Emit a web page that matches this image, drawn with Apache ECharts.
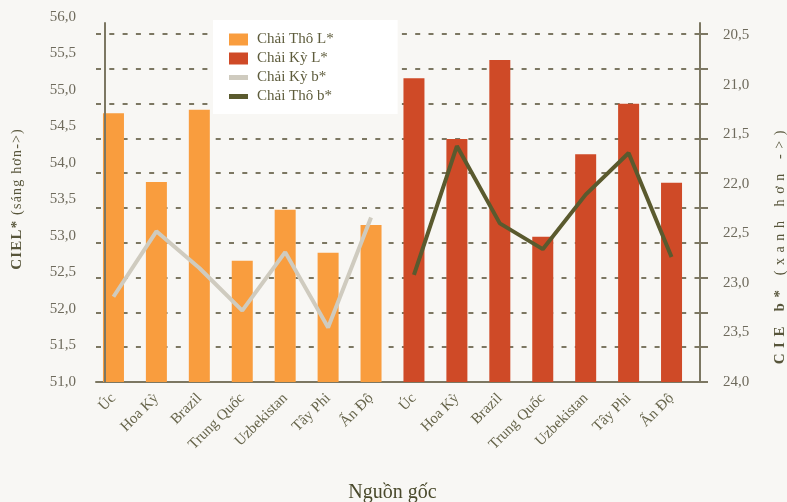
<!DOCTYPE html>
<html>
<head>
<meta charset="utf-8">
<script src="https://cdn.jsdelivr.net/npm/echarts@6/dist/echarts.min.js"></script>
<style>
html,body{margin:0;padding:0;background:#f8f7f4;}
#c{width:787px;height:502px;}
</style>
</head>
<body>
<div id="c"></div>
<script>
const categories = ['Úc','Hoa Kỳ','Brazil','Trung Quốc','Uzbekistan','Tây Phi','Ấn Độ','Úc','Hoa Kỳ','Brazil','Trung Quốc','Uzbekistan','Tây Phi','Ấn Độ'];
const thoL = [54.68, 53.74, 54.73, 52.66, 53.36, 52.77, 53.15, null, null, null, null, null, null, null];
const kyL  = [null, null, null, null, null, null, null, 55.16, 54.33, 55.41, 52.99, 54.12, 54.81, 53.73];
const kyB  = [23.14, 22.48, 22.85, 23.28, 22.69, 23.45, 22.34, null, null, null, null, null, null, null];
const thoB = [null, null, null, null, null, null, null, 22.92, 21.62, 22.40, 22.66, 22.11, 21.69, 22.74];
const leftAxis = {min: 51, max: 56, interval: 0.5};
const rightAxis = {min: 20.5, max: 24, interval: 0.5};
const gridSteps = {min: 0, max: 10, interval: 1};
const leftTitle = ['CIEL*', ' (sáng hơn->)'];
const rightTitle = ['CIE b*', ' (xanh hơn ->)'];

const FONT = 'Liberation Serif';
const AX = '#7c7762';
const LBL = '#6e6a5c';
const TXT = '#57553a';
const fmt = v => v.toFixed(1).replace('.', ',');
// letter-spaced rich text: every character its own token
const spaced = (parts) => parts.map((p, i) =>
  Array.from(p).map(ch => '{' + (i === 0 ? 'b' : 'n') + '|' + ch + '}').join('')).join('');
const richFor = (sp) => ({
  b: {fontFamily: FONT, fontSize: 15, fontWeight: 'bold', color: TXT, padding: [0, sp, 0, sp]},
  n: {fontFamily: FONT, fontSize: 14, color: TXT, padding: [0, sp, 0, sp]}
});
const G = (o) => Object.assign({outerBoundsMode: 'none', containLabel: false}, o);

const chart = echarts.init(document.getElementById('c'));
chart.setOption({
  backgroundColor: '#f8f7f4',
  animation: false,
  textStyle: {fontFamily: FONT},
  legend: {
    orient: 'vertical', left: 213, top: 20,
    backgroundColor: '#ffffff',
    padding: [12, 64, 10, 16],
    itemGap: 4, itemWidth: 19, itemHeight: 12,
    textStyle: {fontFamily: FONT, fontSize: 15, color: '#5e5c3c', padding: [0, 0, 0, 4]},
    data: [
      {name: 'Chải Thô L*', icon: 'rect'},
      {name: 'Chải Kỳ L*', icon: 'rect'},
      {name: 'Chải Kỳ b*', icon: 'path://M0,0H19V5H0Z'},
      {name: 'Chải Thô b*', icon: 'path://M0,0H19V5H0Z'}
    ]
  },
  grid: [
    G({left: 92, right: 94, top: 17, bottom: 120}),   // bars
    G({left: 105, right: 87, top: 17, bottom: 120}),  // left labels
    G({left: 92, right: 94, top: 35, bottom: 120}),   // right labels + lines
    G({left: 96, right: 87, top: 34, bottom: 120}),   // dashed grid + x axis line
    G({left: 105, right: 87, top: 23, bottom: 120})   // y axis lines
  ],
  xAxis: [
    {gridIndex: 0, type: 'category', data: categories,
     axisLine: {show: false}, axisTick: {show: false},
     axisLabel: {rotate: 45, margin: 14, fontFamily: FONT, fontSize: 15, color: '#66644a', interval: 0},
     name: 'Nguồn gốc', nameLocation: 'middle', nameGap: 101,
     nameTextStyle: {fontFamily: FONT, fontSize: 20, color: '#4a4a2c'}},
    {gridIndex: 1, type: 'category', data: categories, show: false},
    {gridIndex: 2, type: 'category', data: categories, show: false},
    {gridIndex: 3, type: 'category', data: categories,
     axisLine: {show: true, lineStyle: {color: AX, width: 2}}, axisTick: {show: false}, axisLabel: {show: false}},
    {gridIndex: 4, type: 'category', data: categories, show: false}
  ],
  yAxis: [
    {gridIndex: 0, type: 'value', min: leftAxis.min, max: leftAxis.max, interval: leftAxis.interval, show: false},
    {gridIndex: 1, type: 'value', min: leftAxis.min, max: leftAxis.max, interval: leftAxis.interval,
     axisLine: {show: false}, axisTick: {show: false}, splitLine: {show: false},
     axisLabel: {formatter: fmt, margin: 29, fontFamily: FONT, fontSize: 15, color: LBL},
     name: spaced(leftTitle), nameLocation: 'middle', nameGap: 80,
     nameTextStyle: {rich: richFor(0.6)}},
    {gridIndex: 2, type: 'value', position: 'right', offset: 7, inverse: true,
     min: rightAxis.min, max: rightAxis.max, interval: rightAxis.interval,
     axisLine: {show: false}, axisTick: {show: false}, splitLine: {show: false},
     axisLabel: {formatter: fmt, margin: 23, fontFamily: FONT, fontSize: 15, color: LBL},
     name: spaced(rightTitle), nameLocation: 'middle', nameGap: 73,
     nameTextStyle: {padding: [0, 78, 0, 0], rich: richFor(2.8)}},
    {gridIndex: 3, type: 'value', min: gridSteps.min, max: gridSteps.max, interval: gridSteps.interval,
     axisLine: {show: false}, axisTick: {show: false}, axisLabel: {show: false},
     splitLine: {show: true, lineStyle: {color: AX, width: 2, type: [5, 8.3]}}},
    {gridIndex: 3, type: 'value', position: 'right', min: gridSteps.min, max: gridSteps.max, interval: gridSteps.interval,
     axisLine: {show: false}, axisLabel: {show: false}, splitLine: {show: false},
     axisTick: {show: true, inside: false, length: 8, lineStyle: {color: AX, width: 2}}},
    {gridIndex: 4, type: 'value', position: 'left', min: 0, max: 1, z: 5,
     axisLine: {show: true, lineStyle: {color: AX, width: 2}}, axisTick: {show: false}, axisLabel: {show: false}, splitLine: {show: false}},
    {gridIndex: 4, type: 'value', position: 'right', min: 0, max: 1, z: 5,
     axisLine: {show: true, lineStyle: {color: AX, width: 2}}, axisTick: {show: false}, axisLabel: {show: false}, splitLine: {show: false}}
  ],
  series: [
    {name: 'Chải Thô L*', type: 'bar', xAxisIndex: 0, yAxisIndex: 0, data: thoL,
     barWidth: 21, barGap: '-100%', itemStyle: {color: '#f99d3e'}},
    {name: 'Chải Kỳ L*', type: 'bar', xAxisIndex: 0, yAxisIndex: 0, data: kyL,
     barWidth: 21, barGap: '-100%', itemStyle: {color: '#cf4a27'}},
    {name: 'Chải Kỳ b*', type: 'line', xAxisIndex: 2, yAxisIndex: 2, data: kyB, z: 4,
     symbol: 'none', lineStyle: {color: '#cfcbbf', width: 4}, itemStyle: {color: '#cfcbbf'}},
    {name: 'Chải Thô b*', type: 'line', xAxisIndex: 2, yAxisIndex: 2, data: thoB, z: 4,
     symbol: 'none', lineStyle: {color: '#5a5a2e', width: 4}, itemStyle: {color: '#5a5a2e'}}
  ]
});
</script>
</body>
</html>
